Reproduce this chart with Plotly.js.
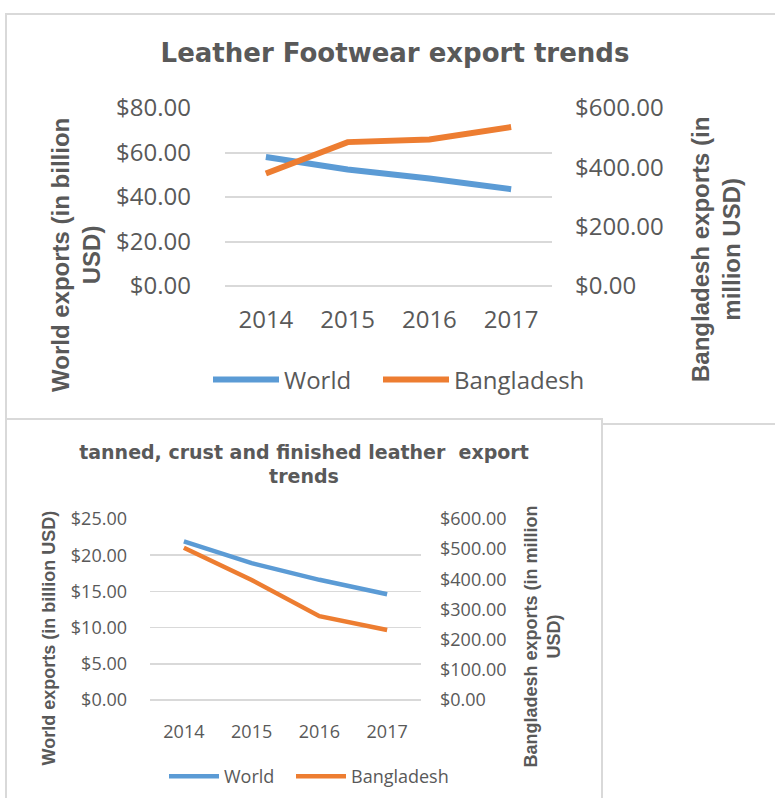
<!DOCTYPE html>
<html>
<head>
<meta charset="utf-8">
<script src="https://cdn.plot.ly/plotly-3.0.1.min.js"></script>
<style>
html,body{margin:0;padding:0;background:#fff;width:775px;height:798px;overflow:hidden;position:relative}
#frame1{position:absolute;left:5px;top:13px;width:800px;height:412px;border:2px solid #d9d9d9;box-sizing:border-box}
#chart1{position:absolute;left:0;top:0;width:775px;height:424px}
#frame2{position:absolute;left:5px;top:418px;width:598px;height:420px;border:2px solid #d9d9d9;box-sizing:border-box;background:#fff}
#chart2{position:absolute;left:0;top:419px;width:602px;height:390px}
</style>
</head>
<body>
<div id="frame1"></div>
<div id="chart1"></div>
<div id="frame2"></div>
<div id="chart2"></div>
<script>
// ---- data ----
const years = ['2014', '2015', '2016', '2017'];
const footwearWorld = [58.0, 52.4, 48.3, 43.5];          // billion USD
const footwearBangladesh = [379, 485, 494, 536];          // million USD
const leatherWorld = [21.9, 18.9, 16.6, 14.6];            // billion USD
const leatherBangladesh = [505, 398, 278, 232];           // million USD
const footwearLeftTicks = [0, 20, 40, 60, 80];
const footwearRightTicks = [0, 200, 400, 600];
const leatherLeftTicks = [0, 5, 10, 15, 20, 25];
const leatherRightTicks = [0, 100, 200, 300, 400, 500, 600];
const seriesNames = ['World', 'Bangladesh'];
const titles = {
  footwear: 'Leather Footwear export trends',
  leather: 'tanned, crust and finished leather  export<br>trends',
  footLeft: 'World exports (in billion<br>USD)',
  footRight: 'Bangladesh exports (in<br>million USD)',
  leathLeft: 'World exports (in billion USD)',
  leathRight: 'Bangladesh exports (in million<br>USD)'
};

// ---- styles ----
const BLUE = '#5B9BD5', ORANGE = '#ED7D31', GREY = '#595959', GRID = '#d9d9d9';
const TICKFONT = 'Open Sans', TITLEFONT = 'DejaVu Sans', AXFONT = 'Liberation Sans, Arial, sans-serif';

function makeConv(W, H, m) {
  const pw = W - m.l - m.r, ph = H - m.t - m.b;
  return {
    x: px => (px - m.l) / pw,
    y: py => (H - m.b - py) / ph
  };
}

function buildChart(id, o) {
  const c = makeConv(o.W, o.H, o.m);
  const traces = [
    {x: years, y: o.world, name: seriesNames[0], type: 'scatter', mode: 'lines',
     line: {color: BLUE, width: o.lw}, yaxis: 'y', legendwidth: o.ew},
    {x: years, y: o.bang, name: seriesNames[1], type: 'scatter', mode: 'lines',
     line: {color: ORANGE, width: o.lw}, yaxis: 'y2'}
  ];
  const tf = {family: TICKFONT, size: o.fs, color: GREY};
  const layout = {
    width: o.W, height: o.H,
    margin: {l: o.m.l, r: o.m.r, t: o.m.t, b: o.m.b, pad: 0},
    paper_bgcolor: 'rgba(0,0,0,0)', plot_bgcolor: 'rgba(0,0,0,0)',
    title: {text: o.title, font: {family: TITLEFONT, size: o.tfs, color: GREY, weight: 700},
            xref: 'container', yref: 'container', x: o.tx / o.W, xanchor: 'center',
            y: 1 - o.ty / o.H, yanchor: 'middle'},
    xaxis: {type: 'category', range: [-0.5, years.length - 0.5], showgrid: false, zeroline: false,
            showline: false, ticks: '', tickfont: tf, ticklabelstandoff: o.xso, fixedrange: true},
    yaxis: {range: [0, o.lmax], tickvals: o.lt, tickformat: '$.2f', showgrid: true,
            gridcolor: GRID, gridwidth: o.gw, zeroline: true, zerolinecolor: GRID, zerolinewidth: o.gw,
            showline: false, ticks: '', tickfont: tf, ticklabelstandoff: o.lso, fixedrange: true},
    yaxis2: {overlaying: 'y', side: 'right', range: [0, o.rmax], tickvals: o.rt, tickformat: '$.2f',
             showgrid: false, zeroline: false, showline: false, ticks: '', tickfont: tf,
             ticklabelstandoff: o.rso, fixedrange: true},
    showlegend: true,
    legend: {orientation: 'h', x: c.x(o.legX), xanchor: 'left', y: c.y(o.legY), yanchor: 'middle',
             font: {family: TICKFONT, size: o.fs, color: GREY}, itemwidth: o.iw,
             indentation: o.ind, bgcolor: 'rgba(0,0,0,0)', borderwidth: 0},
    annotations: [
      {text: o.at1, textangle: -90, showarrow: false, xref: 'paper', yref: 'paper',
       x: c.x(o.a1x), y: c.y(o.a1y), xanchor: 'center', yanchor: 'middle',
       font: {family: AXFONT, size: o.afs, color: GREY, weight: 700}},
      {text: o.at2, textangle: -90, showarrow: false, xref: 'paper', yref: 'paper',
       x: c.x(o.a2x), y: c.y(o.a2y), xanchor: 'center', yanchor: 'middle',
       font: {family: AXFONT, size: o.afs, color: GREY, weight: 700}}
    ]
  };
  Plotly.newPlot(id, traces, layout, {displayModeBar: false, staticPlot: true});
}

buildChart('chart1', {
  W: 775, H: 424, m: {l: 225, r: 223, t: 108, b: 138},
  world: footwearWorld, bang: footwearBangladesh, lw: 6, gw: 2,
  lmax: 80, lt: footwearLeftTicks, rmax: 600, rt: footwearRightTicks,
  fs: 24, title: titles.footwear, tfs: 26, tx: 395, ty: 53,
  xso: 17, lso: 33, rso: 22,
  legX: 208, legY: 380, iw: 66, ew: 89, ind: 0,
  at1: titles.footLeft, a1x: 76, a1y: 255,
  at2: titles.footRight, a2x: 716, a2y: 250, afs: 24
});

buildChart('chart2', {
  W: 602, H: 390, m: {l: 150, r: 181, t: 100, b: 109},
  world: leatherWorld, bang: leatherBangladesh, lw: 4.5, gw: 1.5,
  lmax: 25, lt: leatherLeftTicks, rmax: 600, rt: leatherRightTicks,
  fs: 18, title: titles.leather, tfs: 19, tx: 304, ty: 39.5,
  xso: 19, lso: 22, rso: 18,
  legX: 140, legY: 357.5, iw: 50, ew: 38, ind: 24,
  at1: titles.leathLeft, a1x: 49.4, a1y: 219,
  at2: titles.leathRight, a2x: 542.8, a2y: 217.7, afs: 18
});
</script>
</body>
</html>
